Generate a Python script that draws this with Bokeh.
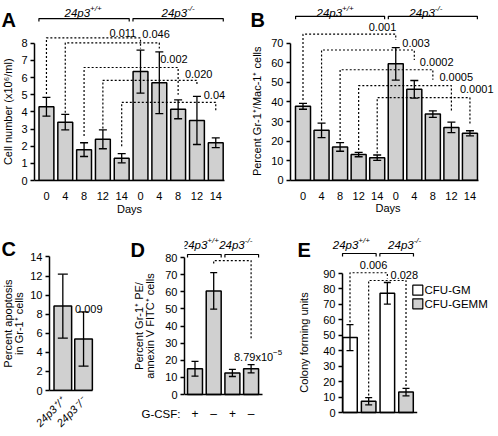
import math
from bokeh.plotting import figure
from bokeh.layouts import row, column
from bokeh.models import FixedTicker, Range1d
from bokeh.core.properties import value
from bokeh.embed import file_html
from bokeh.resources import INLINE

# ------------------------------------------------------------------ data
day_labels = ["0", "4", "8", "12", "14"]

# A: cell number (x10^6/ml), wild type (+/+) and knockout (-/-)
a_wt = [4.3, 3.4, 1.8, 2.4, 1.3]
a_wt_err = [0.55, 0.45, 0.4, 0.55, 0.27]
a_ko = [6.35, 5.7, 4.15, 3.5, 2.2]
a_ko_err = [1.25, 1.8, 0.55, 1.4, 0.28]
a_pvals = ["0.011", "0.046", "0.002", "0.020", "0.04"]

# B: percent Gr-1+/Mac-1+ cells
b_wt = [37.8, 25.5, 17.0, 13.1, 11.5]
b_wt_err = [1.5, 3.7, 2.2, 1.1, 1.4]
b_ko = [59.5, 46.5, 33.8, 27.0, 24.0]
b_ko_err = [8.3, 4.5, 1.7, 2.7, 1.3]
b_pvals = ["0.001", "0.003", "0.0002", "0.0005", "0.0001"]

# C: percent apoptosis in Gr-1+ cells
c_labels = ["24p3\u207a/\u207a", "24p3\u207b/\u207b"]
c_vals = [8.85, 5.4]
c_err = [3.35, 2.85]
c_pval = "0.009"

# D: percent Gr-1+ PE / annexin V FITC+ cells
d_gcsf = ["+", "\u2013", "+", "\u2013"]
d_vals = [15.0, 60.5, 12.6, 15.0]
d_err = [4.3, 10.7, 2.1, 2.4]
d_pval_main, d_pval_exp = "8.79x10", "\u22125"

# E: colony forming units
e_series = ["CFU-GM", "CFU-GEMM"]
e_wt = [48.5, 7.3]
e_wt_err = [8.4, 2.3]
e_ko = [77.2, 13.2]
e_ko_err = [7.0, 2.4]
e_pvals = ["0.006", "0.028"]

# significance bracket heights (data units): level, left end, right end
a_br_level = [8.32, 8.03, 6.59, 5.84, 4.56]
a_br_left = [5.05, 3.95, 2.6, 3.03, 2.0]
a_br_right = [7.7, 7.7, 5.0, 5.6, 4.05]
b_br_level = [74.7, 66.6, 56.5, 48.4, 42.2]
b_br_left = [41.0, 30.5, 20.5, 15.5, 13.8]
b_br_right = [71.7, 61.5, 51.4, 34.6, 28.7]
d_br = [78.2, 76.5, 31.9]
e_br_level = [90.5, 85.5]
e_br_left = [58.5, 11.0]
e_br_right = [86.8, 16.4]

# ------------------------------------------------------------------ style / geometry
FONT = "Liberation Sans"
GRAY = "#d0d0d0"
CW = {"0": .556, "1": .556, "2": .556, "3": .556, "4": .556, "5": .556, "6": .556,
      "7": .556, "8": .556, "9": .556, ".": .278, "x": .5, "p": .556, "+": .584,
      "/": .278, "-": .333, "\u2212": .584}


def tw(s, fs):
    return sum(CW.get(c, 0.556) for c in s) * fs


# panel scale mappings: (x of bar 0 in px, px per bar, y px of value 0, px per unit)
MA = (45, 18.9, 182, 17.34)
MB = (302.5, 18.55, 181.7, 1.977)
MC = (61.5, 21, 395, 9.84)
MD = (194.5, 18.7, 394, 1.7125)
ME = (349.5, 18.67, 412, 1.544)


def make(fl, fr, ft, fb, mp, frame_l=None, frame_b=None, xaxis=False, yaxis=False):
    x0, pitch, y0, ppu = mp
    L, R, T, B = round(fl), round(fr), round(ft), round(fb)
    FL = round(frame_l) if frame_l is not None else L
    FB = round(frame_b) if frame_b is not None else B
    p = figure(width=R - L, height=B - T,
               x_range=Range1d((FL - x0) / pitch, (R - x0) / pitch),
               y_range=Range1d((y0 - FB) / ppu, (y0 - T) / ppu),
               output_backend="svg", toolbar_location=None, tools="",
               min_border_left=FL - L, min_border_right=0, min_border_top=0,
               min_border_bottom=B - FB,
               x_axis_location="below" if xaxis else None,
               y_axis_location="left" if yaxis else None,
               outline_line_color=None)
    p.xgrid.visible = False
    p.ygrid.visible = False
    p.background_fill_color = "white"
    p.border_fill_color = "white"
    return p


def conv(mp, rx, ry):
    x0, pitch, y0, ppu = mp
    return (rx - x0) / pitch, (y0 - ry) / ppu


def y_axis(p, ticks, top):
    ax = p.yaxis[0]
    ax.ticker = FixedTicker(ticks=ticks)
    ax.bounds = (0, top)
    ax.axis_line_width = 1.5
    ax.axis_line_color = "black"
    ax.major_tick_line_width = 1.5
    ax.major_tick_line_color = "black"
    ax.major_tick_out = 4
    ax.major_tick_in = 0
    ax.minor_tick_line_color = None
    ax.major_label_text_font = FONT
    ax.major_label_text_font_size = "11px"
    ax.major_label_text_color = "black"
    ax.major_label_standoff = 3


def x_axis(p, labels, right, standoff=5):
    ax = p.xaxis[0]
    ax.ticker = FixedTicker(ticks=list(range(len(labels))))
    ax.major_label_overrides = {i: s for i, s in enumerate(labels)}
    ax.bounds = (p.x_range.start, right)
    ax.axis_line_width = 1.5
    ax.axis_line_color = "black"
    ax.major_tick_line_color = None
    ax.minor_tick_line_color = None
    ax.major_label_text_font = FONT
    ax.major_label_text_font_size = "11px"
    ax.major_label_text_color = "black"
    ax.major_label_standoff = standoff
    return ax


def bars(p, xs, vals, errs, fills, width, cap):
    p.vbar(x=xs, top=vals, bottom=0, width=width, fill_color=fills,
           line_color="black", line_width=1.5)
    lo = [v - e for v, e in zip(vals, errs)]
    hi = [v + e for v, e in zip(vals, errs)]
    p.segment(x0=xs, y0=lo, x1=xs, y1=hi, line_color="black", line_width=1.3)
    p.scatter(x=list(xs) + list(xs), y=lo + hi, marker="dash", size=cap,
              line_color="black", line_width=1.3)


def txt(p, x, y, s, fs=11, align="center", base="middle", dx=0, dy=0,
        style="normal", angle=0):
    p.text(x=[x], y=[y], text=[s], text_font=value(FONT), text_font_size=f"{fs}px",
           text_font_style=style, text_align=align, text_baseline=base,
           x_offset=dx, y_offset=dy, text_color="black", angle=angle)


def sup_text(p, x, y, main, sup, fs=11, sfs=8, align="center", dx=0, dy=0,
             style="normal", rise=4.5):
    wm, ws = tw(main, fs), tw(sup, sfs)
    tot = wm + ws
    start = dx - tot / 2 if align == "center" else (dx if align == "left" else dx - tot)
    txt(p, x, y, main, fs, "left", "alphabetic", start, dy, style)
    txt(p, x, y, sup, sfs, "left", "alphabetic", start + wm, dy - rise, style)


def group(pbr, plab, mp, i0, i1, ybr, ybase, sup, ldx):
    yb = conv(mp, 0, ybr)[1]
    yt = conv(mp, 0, ybr + 3)[1]
    yl = conv(mp, 0, ybase)[1]
    pbr.multi_line([[i0 - 0.4, i0 - 0.4, i1 + 0.4, i1 + 0.4]], [[yt, yb, yb, yt]],
                   line_width=1.2, line_color="black")
    sup_text(plab, (i0 + i1) / 2, yl, "24p3", sup, fs=11.5, sfs=8, align="center",
             dx=ldx, style="italic")


def brackets(p, lefts, rights, levels, lend, rend):
    xs = [[l, l, r, r] for l, r in zip(lefts, rights)]
    ys = [[a, lv, lv, b] for lv, a, b in zip(levels, lend, rend)]
    p.multi_line(xs, ys, line_dash="2 2", line_width=1.2, line_color="black")


def ptxt(p, mp, rx, ry, s, fs=11, align="center", base="middle", style="normal", angle=0):
    x, y = conv(mp, rx, ry)
    txt(p, x, y, s, fs, align, base, 0, 0, style, angle)


VERT = math.pi / 2
LETTER_Y = 249.5

# ------------------------------------------------------------------ panel A
a_lab = make(0, 18, 0, 202, MA, frame_b=182)
a_main = make(18, 249, 0, 202, MA, 33, 182, xaxis=True, yaxis=True)
a_strip = make(0, 249, 202, 232, MA)
y_axis(a_main, list(range(9)), 8)
x_axis(a_main, day_labels * 2, 9.45)
xa = list(range(10))
bars(a_main, xa, a_wt + a_ko, a_wt_err + a_ko_err, [GRAY] * 10, 0.79, 8)
brackets(a_main, list(range(5)), list(range(5, 10)), a_br_level, a_br_left, a_br_right)
a_tdx = [-31, -17, -18, -12, -12]
a_tdy = [4.7, 8.7, 8.7, 6.7, 7.0]
for i, s in enumerate(a_pvals):
    txt(a_main, i + 5, a_br_level[i], s, 11, "left", "middle", a_tdx[i], -a_tdy[i])
group(a_main, a_main, MA, 0, 4, 18.3, 12.5, "+/+", -1)
group(a_main, a_main, MA, 5, 9, 18.3, 12.5, "-/-", 0)
ptxt(a_lab, MA, 1, 20, "A", 20, "left", "alphabetic", "bold")
ptxt(a_lab, MA, 7.5, 112.5, "Cell number (x10\u2076/ml)", 11, angle=VERT)
ptxt(a_strip, MA, 129, 208, "Days", 11)

# ------------------------------------------------------------------ panel B
b_lab = make(249, 267, 0, 202, MB, frame_b=182)
b_main = make(267, 498, 0, 202, MB, 290, 182, xaxis=True, yaxis=True)
b_strip = make(249, 498, 202, 232, MB)
y_axis(b_main, list(range(0, 80, 10)), 70)
x_axis(b_main, day_labels * 2, 9.45)
bars(b_main, xa, b_wt + b_ko, b_wt_err + b_ko_err, [GRAY] * 10, 0.81, 8)
brackets(b_main, list(range(5)), list(range(5, 10)), b_br_level, b_br_left, b_br_right)
b_tdx = [-27, -12, -13, -12, -10]
b_tdy = [7.3, 6.7, 7.3, 8.3, 8.3]
for i, s in enumerate(b_pvals):
    txt(b_main, i + 5, b_br_level[i], s, 11, "left", "middle", b_tdx[i], -b_tdy[i])
group(b_main, b_main, MB, 0, 4, 16, 12.5, "+/+", -5)
group(b_main, b_main, MB, 5, 9, 16, 12.5, "-/-", -7)
ptxt(b_lab, MB, 250, 19.5, "B", 20, "left", "alphabetic", "bold")
ptxt(b_lab, MB, 256.7, 112, "Percent Gr-1\u207a/Mac-1\u207a cells", 11, angle=VERT)
ptxt(b_strip, MB, 387.5, 207, "Days", 11)

# ------------------------------------------------------------------ panel C
c_lab = make(0, 27, 232, 436, MC, frame_b=395)
c_main = make(27, 125, 232, 436, MC, 48, 395, xaxis=True, yaxis=True)
y_axis(c_main, list(range(0, 15, 2)), 14)
cax = x_axis(c_main, c_labels, 1.45, standoff=3)
cax.major_label_orientation = math.pi / 4
cax.major_label_text_font_style = "italic"
bars(c_main, [0, 1], c_vals, c_err, [GRAY] * 2, 0.85, 10)
txt(c_main, 1, c_vals[1] + c_err[1], c_pval, 11, "left", "alphabetic", -8.5, -3)
ptxt(c_lab, MC, 1, LETTER_Y, "C", 20, "left", "alphabetic", "bold")
ptxt(c_lab, MC, 7, 326, "Percent apoptosis", 11, angle=VERT)
ptxt(c_lab, MC, 18, 326, "in Gr-1\u207a cells", 11, angle=VERT)

# ------------------------------------------------------------------ panel D
d_lab = make(125, 162, 232, 403, MD)
d_top = make(162, 295, 232, 252, MD, frame_l=184)
d_main = make(162, 295, 252, 403, MD, 184, None, yaxis=True)
d_bot = make(125, 295, 403, 436, MD)
y_axis(d_main, list(range(0, 90, 10)), 80)
bars(d_main, [0, 1, 2, 3], d_vals, d_err, [GRAY] * 4, 0.8, 7)
d_main.segment(x0=[d_main.x_range.start], y0=[0], x1=[3.61], y1=[0], line_color="black",
               line_width=1.5)
brackets(d_main, [1], [3], [d_br[0]], [d_br[1]], [d_br[2]])
sup_text(d_main, 3, conv(MD, 0, 356)[1], d_pval_main, d_pval_exp, fs=11, sfs=8,
         align="center", dx=7)
group(d_main, d_top, MD, 0, 1, 254, 244.5, "+/+", -4)
group(d_main, d_top, MD, 2, 3, 254, 244.5, "-/-", -6)
yg = conv(MD, 0, 413)[1]
for i, s in enumerate(d_gcsf):
    txt(d_bot, i, yg, s, 12, "center", "middle")
ptxt(d_bot, MD, 180, 413, "G-CSF:", 11.5, "right", "middle")
ptxt(d_lab, MD, 130, LETTER_Y, "D", 20, "left", "alphabetic", "bold")
ptxt(d_lab, MD, 138.7, 325.5, "Percent Gr-1\u207a PE/", 11, angle=VERT)
ptxt(d_lab, MD, 149.5, 325.5, "annexin V FITC\u207a cells", 11, angle=VERT)

# ------------------------------------------------------------------ panel E
e_top = make(295, 498, 232, 258, ME)
e_lab = make(295, 320, 258, 436, ME)
e_main = make(320, 498, 258, 436, ME, 342, None, yaxis=True)
y_axis(e_main, list(range(0, 100, 10)), 90)
e_vals = [e_wt[0], e_wt[1], e_ko[0], e_ko[1]]
e_errs = [e_wt_err[0], e_wt_err[1], e_ko_err[0], e_ko_err[1]]
bars(e_main, [0, 1, 2, 3], e_vals, e_errs, ["white", GRAY, "white", GRAY], 0.78, 7)
e_main.segment(x0=[e_main.x_range.start], y0=[0], x1=[3.6], y1=[0], line_color="black",
               line_width=1.5)
brackets(e_main, [0, 1], [2, 3], e_br_level, e_br_left, e_br_right)
txt(e_main, 2, e_br_level[0], e_pvals[0], 11, "right", "middle", 0, -7.3)
txt(e_main, 3, e_br_level[1], e_pvals[1], 11, "left", "middle", -15.5, -5)
group(e_top, e_top, ME, 0, 1, 253, 244.5, "+/+", -8)
group(e_top, e_top, ME, 2, 3, 253, 244.5, "-/-", 8)
l1, l2 = conv(ME, 417.3, 289.7), conv(ME, 417.3, 303.3)
e_main.scatter(x=[l1[0], l2[0]], y=[l1[1], l2[1]], marker="square", size=10,
               fill_color=["white", GRAY], line_color="black", line_width=1.2)
ptxt(e_main, ME, 424, 289.7, e_series[0], 11.5, "left", "middle")
ptxt(e_main, ME, 424, 303.3, e_series[1], 11.5, "left", "middle")
ptxt(e_top, ME, 297, LETTER_Y, "E", 20, "left", "alphabetic", "bold")
ptxt(e_lab, ME, 303, 342, "Colony forming units", 11, angle=VERT)

top = row(column(row(a_lab, a_main), a_strip), column(row(b_lab, b_main), b_strip))
bottom = row(row(c_lab, c_main),
             column(row(d_lab, column(d_top, d_main)), d_bot),
             column(e_top, row(e_lab, e_main)))
layout = column(top, bottom)
open("out.html", "w").write(file_html(layout, INLINE))
